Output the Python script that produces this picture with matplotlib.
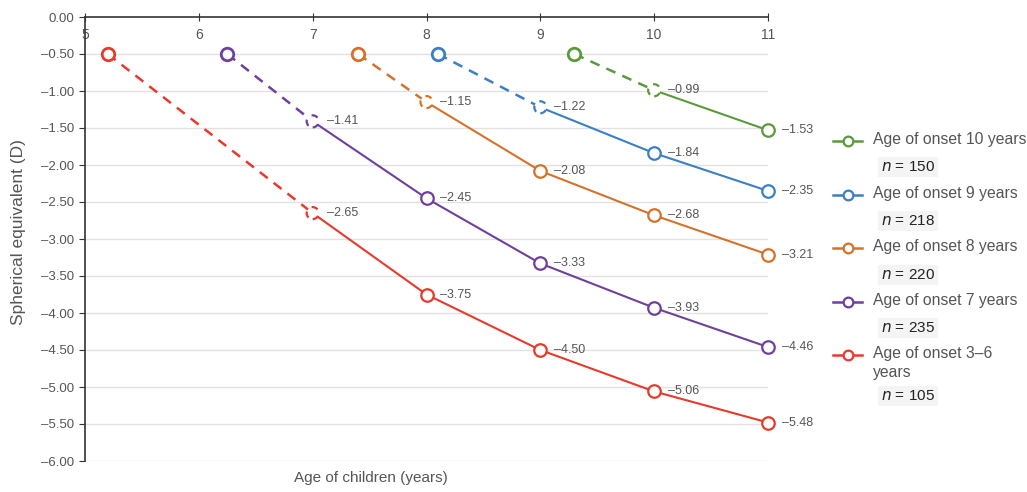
import matplotlib.pyplot as plt
from matplotlib.lines import Line2D

plt.rcParams['font.family'] = ['Liberation Sans', 'DejaVu Sans']

# age of onset (first point, -0.50 D) for each group
onset_age = [9.3, 8.1, 7.4, 6.25, 5.2]
onset_se = -0.50

# follow-up ages and spherical equivalent per group
ages_10 = [10, 11]
se_10 = [-0.99, -1.53]
ages_9 = [9, 10, 11]
se_9 = [-1.22, -1.84, -2.35]
ages_8 = [8, 9, 10, 11]
se_8 = [-1.15, -2.08, -2.68, -3.21]
ages_7 = [7, 8, 9, 10, 11]
se_7 = [-1.41, -2.45, -3.33, -3.93, -4.46]
ages_36 = [7, 8, 9, 10, 11]
se_36 = [-2.65, -3.75, -4.50, -5.06, -5.48]

labels = ['Age of onset 10 years', 'Age of onset 9 years', 'Age of onset 8 years',
          'Age of onset 7 years', 'Age of onset 3\u20136\nyears']
n_values = [150, 218, 220, 235, 105]
colors = ['#5b9a3c', '#3b7fc4', '#d4722c', '#6f3f9e', '#e63a2c']

groups = [(ages_10, se_10), (ages_9, se_9), (ages_8, se_8), (ages_7, se_7), (ages_36, se_36)]


def fmt(v):
    return ('\u2013%.2f' % abs(v)) if v < 0 else '%.2f' % abs(v)


fig = plt.figure(figsize=(10.27, 4.92), dpi=100)
W, H = 1027, 492
ax = fig.add_axes([85 / W, 1 - 461 / H, (768 - 85) / W, (461 - 17) / H])

yticks = [-0.5 * i for i in range(13)]
for y in yticks[1:]:
    ax.axhline(y, color='#e2e2e2', lw=1.0, zorder=0)

for (ages, se), onset, c in zip(groups, onset_age, colors):
    # dashed segment from onset to first visit
    ax.plot([onset, ages[0]], [onset_se, se[0]], color=c, lw=1.8, ls=(0, (4, 3)), zorder=2)
    ax.plot(ages, se, color=c, lw=1.5, zorder=2)
    ax.plot([onset], [onset_se], 'o', ms=9, mfc='white', mec=c, mew=2.0, zorder=3, clip_on=False)
    ax.scatter([ages[0]], [se[0]], s=75, facecolors='white', edgecolors=c, linewidths=1.6,
               linestyle=(0, (3, 3)), zorder=3, clip_on=False)
    ax.plot(ages[1:], se[1:], 'o', ms=9, mfc='white', mec=c, mew=1.6, zorder=3, clip_on=False)
    for a, v in zip(ages, se):
        ax.annotate(fmt(v), (a, v), xytext=(10, 0), textcoords='offset points',
                    va='center', ha='left', fontsize=9, color='#555555', zorder=4)

ax.set_xlim(5, 11)
ax.set_ylim(-6, 0)
ax.set_yticks(yticks)
ax.set_yticklabels([fmt(v) for v in yticks])
ax.set_xticks(range(5, 12))
ax.xaxis.tick_top()
ax.tick_params(axis='x', direction='inout', length=6, pad=-21, labelsize=10, colors='#333333',
               labelcolor='#555555')
ax.tick_params(axis='y', direction='out', length=4, labelsize=9.5, colors='#333333',
               labelcolor='#555555')
for s in ['right', 'bottom']:
    ax.spines[s].set_visible(False)
for s in ['left', 'top']:
    ax.spines[s].set_color('#333333')
    ax.spines[s].set_linewidth(1.2)

fig.text(19 / W, 1 - 232 / H, 'Spherical equivalent (D)', rotation=90, va='center', ha='center',
         fontsize=12.5, color='#555555')
fig.text(371 / W, 1 - 478 / H, 'Age of children (years)', va='center', ha='center',
         fontsize=11, color='#555555')

# legend built by hand, each entry with its sample size below
legend_y = [141, 195, 248, 302, 355]
n_y = [167, 221, 275, 328, 396]
for lab, n, c, ly, ny in zip(labels, n_values, colors, legend_y, n_y):
    fig.add_artist(Line2D([833 / W, 862 / W], [1 - ly / H, 1 - ly / H], color=c, lw=1.8,
                          transform=fig.transFigure))
    fig.add_artist(Line2D([848 / W], [1 - ly / H], color=c, marker='o', ms=7, mfc='white',
                          mew=1.6, ls='none', transform=fig.transFigure))
    fig.text(873 / W, 1 - (ly - 9) / H, lab, va='top', ha='left', fontsize=11.3,
             color='#555555', linespacing=1.3)
    fig.text(908 / W, 1 - ny / H, '$n$ = %d' % n, va='center', ha='center', fontsize=11,
             color='#222222',
             bbox=dict(boxstyle='square,pad=0.2', fc='#f4f4f4', ec='none'))

fig.savefig('out.png', dpi=100, facecolor='white')
